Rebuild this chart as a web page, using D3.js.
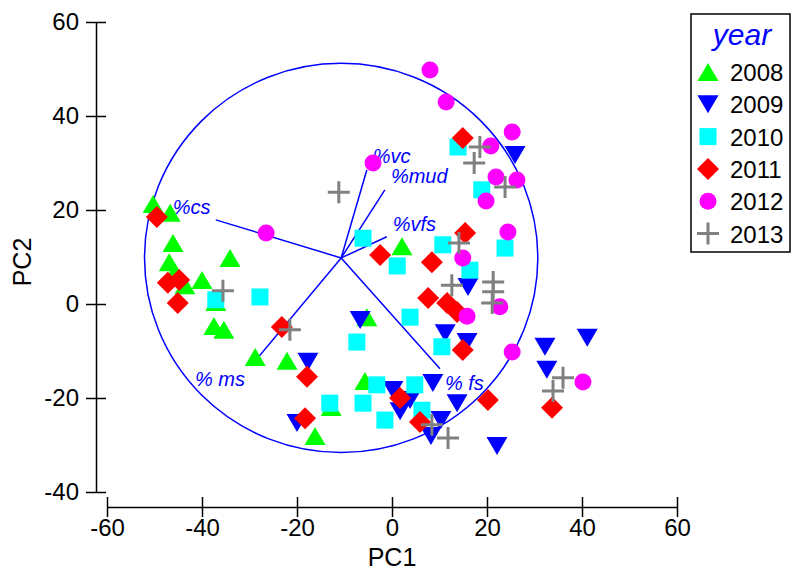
<!DOCTYPE html>
<html>
<head>
<meta charset="utf-8">
<script src="https://cdn.jsdelivr.net/npm/d3@7"></script>
<style>
body { margin: 0; background: #fff; }
text { font-family: "Liberation Sans", Arial, sans-serif; }
</style>
</head>
<body>
<svg id="chart" width="791" height="572"></svg>
<script>
// PCA scores per year (PC1, PC2)
var years = ["2008", "2009", "2010", "2011", "2012", "2013"];

var pc1_2008 = [-50.3, -46.7, -46.1, -46.9, -45.7, -43.6, -40.0, -34.1, -37.1, -37.5, -35.4, -28.8, -22.1, -16.2, -12.8, -5.3, -5.7, 2.1];
var pc2_2008 = [21.3, 19.4, 13.0, 8.9, 6.8, 4.0, 5.1, 9.8, 0.4, -4.7, -5.5, -11.3, -12.1, -28.1, -21.9, -2.8, -16.4, 12.3];

var pc1_2009 = [25.9, 16.0, 11.2, 15.8, 32.2, 41.1, 32.6, 22.1, 13.7, 8.6, 0.2, 1.7, 3.8, 10.3, 8.2, -17.7, -20.0, -6.7];
var pc2_2009 = [31.7, 3.6, -6.2, -8.1, -9.1, -7.2, -14.0, -30.2, -21.1, -16.8, -18.3, -22.8, -20.4, -24.7, -28.1, -12.3, -25.3, -3.4];

var pc1_2010 = [13.9, 18.9, 23.8, 10.7, 16.4, 3.8, 10.5, -6.1, 1.1, -37.1, -27.8, -7.4, -13.1, -6.1, -3.2, -1.5, 4.8, 6.3];
var pc2_2010 = [33.4, 24.3, 11.9, 12.6, 7.2, -2.8, -9.1, 14.0, 8.1, 0.9, 1.5, -8.1, -21.1, -21.1, -17.2, -24.7, -17.2, -22.6];

var pc1_2011 = [14.9, 15.4, 8.4, 7.6, 11.6, 13.7, 14.9, -2.5, -49.5, -47.2, -44.8, -45.1, -23.2, -17.9, -18.3, 1.7, 5.9, 20.2, 33.7];
var pc2_2011 = [35.3, 15.1, 8.9, 1.3, 0.2, -1.7, -9.8, 10.4, 18.5, 4.5, 5.1, 0.2, -4.9, -15.5, -24.3, -20.0, -25.1, -20.4, -22.1];

var pc1_2012 = [8.0, 11.4, 25.3, 20.8, 21.9, 26.3, 19.8, 24.4, 14.9, 22.7, 15.8, 25.3, 40.2, -4.0, -26.5];
var pc2_2012 = [49.8, 43.0, 36.6, 33.6, 27.0, 26.4, 21.9, 15.3, 9.8, -0.6, -2.6, -10.2, -16.6, 30.0, 15.1];

var pc1_2013 = [-11.2, -35.6, -21.5, 18.5, 17.3, 23.8, 14.1, 12.6, 21.3, 21.3, 21.1, 36.0, 33.9, 8.4, 11.8];
var pc2_2013 = [23.8, 2.8, -5.5, 33.4, 30.0, 24.9, 13.0, 4.0, 4.7, 2.6, 0.2, -15.7, -18.5, -25.7, -28.5];

// loading vectors (start at the circle centre)
var vectorNames = ["%cs", "%vc", "%mud", "%vfs", "% fs", "% ms"];
var vectorPC1 = [-37.1, -5.3, -1.5, -1.1, 10.1, -29.7];
var vectorPC2 = [17.9, 28.5, 24.3, 14.3, -13.8, -13.2];
var circleCentre = [-10.7, 9.8];
var circleRadius = 41.4;

var xTicks = [-60, -40, -20, 0, 20, 40, 60];
var yTicks = [-40, -20, 0, 20, 40, 60];

// ---- style
var colors = ["#00ff00", "#0000ff", "#00ffff", "#ff0000", "#ff00ff", "#808080"];
var shapes = ["up", "down", "square", "diamond", "circle", "plus"];
var labelOffsets = [[-43, -6], [6, -7], [6, -7], [6, -6], [5, 21], [-56, 20]];

var pc1 = [pc1_2008, pc1_2009, pc1_2010, pc1_2011, pc1_2012, pc1_2013];
var pc2 = [pc2_2008, pc2_2009, pc2_2010, pc2_2011, pc2_2012, pc2_2013];

var svg = d3.select("#chart");

var x = d3.scaleLinear().domain([-60, 60]).range([107, 677]);
var y = d3.scaleLinear().domain([-40, 60]).range([492, 22]);

function shapePath(kind) {
  if (kind == "up") return "M0,-9L10.5,9L-10.5,9Z";
  if (kind == "down") return "M0,9L10.5,-9L-10.5,-9Z";
  if (kind == "square") return "M-8.5,-8.5H8.5V8.5H-8.5Z";
  if (kind == "diamond") return "M0,-11L11,0L0,11L-11,0Z";
  if (kind == "circle") return d3.symbol(d3.symbolCircle, Math.PI * 8.5 * 8.5)();
  return "M-11,0H11M0,-11V11";
}

// axes (plain hyphen for negative numbers)
var fmt = function(d){ return String(d); };

var xAxis = svg.append("g")
  .attr("transform", "translate(0,507)")
  .call(d3.axisBottom(x).tickValues(xTicks).tickFormat(fmt).tickSizeOuter(0));
xAxis.selectAll(".tick line").attr("y1", -10).attr("y2", 10);
xAxis.selectAll(".tick text").attr("y", 29).attr("dy", 0);

var yAxis = svg.append("g")
  .attr("transform", "translate(96,0)")
  .call(d3.axisLeft(y).tickValues(yTicks).tickFormat(fmt).tickSizeOuter(0));
yAxis.selectAll(".tick line").attr("x1", -10).attr("x2", 10);
yAxis.selectAll(".tick text").attr("x", -17);

svg.selectAll(".domain, .tick line").attr("stroke", "#000").attr("stroke-width", 1.5);
svg.selectAll(".tick text").attr("font-size", 24).attr("fill", "#000")
  .style("font-family", "'Liberation Sans', Arial, sans-serif");

svg.append("text").attr("x", 392).attr("y", 566).attr("text-anchor", "middle")
  .attr("font-size", 25).text("PC1");
svg.append("text").attr("transform", "translate(31,262) rotate(-90)")
  .attr("text-anchor", "middle").attr("font-size", 25).text("PC2");

// circle and vectors
svg.append("ellipse")
  .attr("cx", x(circleCentre[0])).attr("cy", y(circleCentre[1]))
  .attr("rx", x(circleCentre[0] + circleRadius) - x(circleCentre[0]))
  .attr("ry", y(circleCentre[1]) - y(circleCentre[1] + circleRadius))
  .attr("fill", "none").attr("stroke", "#0000ff").attr("stroke-width", 1.5);

var vec = svg.append("g").selectAll("g")
  .data(vectorNames).enter().append("g");

vec.append("line")
  .attr("x1", x(circleCentre[0])).attr("y1", y(circleCentre[1]))
  .attr("x2", function(d, i){ return x(vectorPC1[i]); })
  .attr("y2", function(d, i){ return y(vectorPC2[i]); })
  .attr("stroke", "#0000ff").attr("stroke-width", 1.5);

vec.append("text")
  .attr("x", function(d, i){ return x(vectorPC1[i]) + labelOffsets[i][0]; })
  .attr("y", function(d, i){ return y(vectorPC2[i]) + labelOffsets[i][1]; })
  .attr("font-size", 20).attr("font-style", "italic").attr("fill", "#0000ff")
  .text(function(d){ return d; });

// points
years.forEach(function(yr, k) {
  var g = svg.append("g");
  g.selectAll("path")
    .data(pc1[k]).enter().append("path")
    .attr("transform", function(d, i){ return "translate(" + x(d) + "," + y(pc2[k][i]) + ")"; })
    .attr("d", shapePath(shapes[k]))
    .attr("fill", shapes[k] == "plus" ? "none" : colors[k])
    .attr("stroke", shapes[k] == "plus" ? colors[k] : "none")
    .attr("stroke-width", 3);
});

// legend
var legend = svg.append("g");
legend.append("rect").attr("x", 691).attr("y", 14).attr("width", 99).attr("height", 238)
  .attr("fill", "#fff").attr("stroke", "#000").attr("stroke-width", 1.5);
legend.append("text").attr("x", 742).attr("y", 45).attr("text-anchor", "middle")
  .attr("font-size", 30).attr("font-style", "italic").attr("fill", "#0000ff").text("year");

var item = legend.selectAll("g.item")
  .data(years).enter().append("g").attr("class", "item")
  .attr("transform", function(d, i){ return "translate(708," + (72 + i * 32.3) + ")"; });
item.append("path")
  .attr("d", function(d, i){ return shapePath(shapes[i]); })
  .attr("fill", function(d, i){ return shapes[i] == "plus" ? "none" : colors[i]; })
  .attr("stroke", function(d, i){ return shapes[i] == "plus" ? colors[i] : "none"; })
  .attr("stroke-width", 3);
item.append("text").attr("x", 22).attr("y", 9).attr("font-size", 24)
  .text(function(d){ return d; });
</script>
</body>
</html>
